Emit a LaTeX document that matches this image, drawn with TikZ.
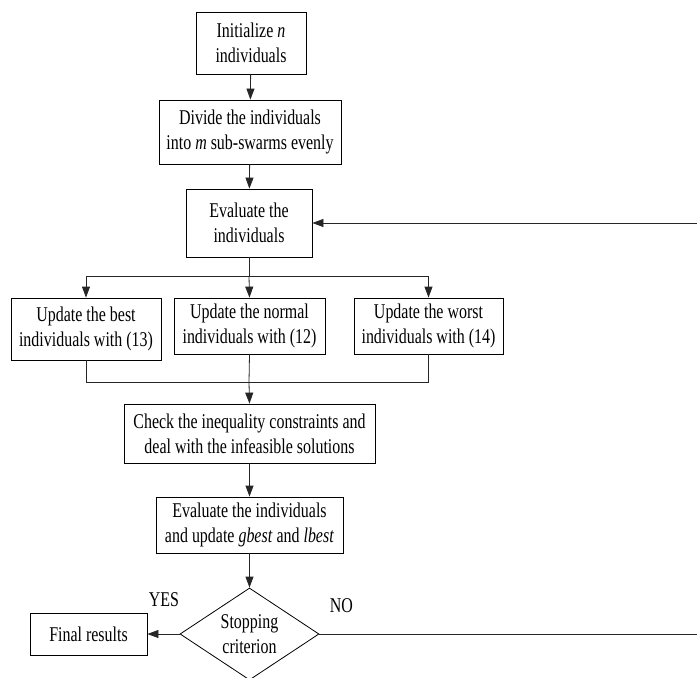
\documentclass[tikz,border=0pt]{standalone}
\usepackage{fontspec}
\setmainfont[FakeStretch=0.76]{Liberation Serif}
\usetikzlibrary{shapes.geometric,arrows.meta}
\begin{document}
\begin{tikzpicture}[x=1pt,y=-1pt,
  every node/.style={font=\fontsize{21}{25}\selectfont},
  box/.style={draw, line width=0.8pt, align=center, inner sep=0pt},
  dec/.style={draw, line width=0.8pt, diamond, align=center, inner sep=0pt, aspect=1.5},
  link/.style={line width=0.8pt, draw=black!85},
  arr/.style={link, -{Triangle[length=11pt,width=8pt]}},
  lbl/.style={inner sep=0pt}]
\useasboundingbox (0,0) rectangle (697,678);
\node[box, minimum width=110, minimum height=62] (init) at (251,43) {Initialize \textit{n}\\individuals};
\node[box, minimum width=182, minimum height=64] (divide) at (250,132) {Divide the individuals\\into \textit{m} sub-swarms evenly};
\node[box, minimum width=126, minimum height=68] (eval) at (249,223) {Evaluate the\\individuals};
\node[box, minimum width=150, minimum height=62] (best) at (86,329) {Update the best\\individuals with (13)};
\node[box, minimum width=151, minimum height=56] (normal) at (249.5,326) {Update the normal\\individuals with (12)};
\node[box, minimum width=149, minimum height=56] (worst) at (428.5,326) {Update the worst\\individuals with (14)};
\node[box, minimum width=251, minimum height=59] (check) at (249.5,433.5) {Check the inequality constraints and\\deal with the infeasible solutions};
\node[box, minimum width=187, minimum height=56] (evalup) at (249.5,525) {Evaluate the individuals\\and update \textit{gbest} and \textit{lbest}};
\node[dec, minimum width=139, minimum height=92] (stop) at (249.5,634) {Stopping\\criterion};
\node[box, minimum width=117, minimum height=42] (final) at (88.5,634) {Final results};
\node[lbl] (yes) at (164,600) {YES};
\node[lbl] (no) at (341.5,606) {NO};
\coordinate (split) at (249,276);
\coordinate (merge) at (249,382);
\coordinate (edgeNo) at (697,634);
\coordinate (edgeLoop) at (697,223);
\draw[arr] (init) -- (divide);
\draw[arr] (divide) -- (eval);
\draw[link] (eval.south) -- (split);
\draw[arr] (split) -- (normal.north);
\draw[arr] (split) -| (best.north);
\draw[arr] (split) -| (worst.north);
\draw[link] (best.south) |- (merge);
\draw[link] (worst.south) |- (merge);
\draw[link] (normal.south) -- (merge);
\draw[arr] (merge) -- (check.north);
\draw[arr] (check) -- (evalup);
\draw[arr] (evalup) -- (stop.north);
\draw[arr] (stop.west) -- (final.east);
\draw[link] (stop.east) -- (edgeNo);
\draw[arr] (edgeLoop) -- (eval.east);
\end{tikzpicture}
\end{document}
